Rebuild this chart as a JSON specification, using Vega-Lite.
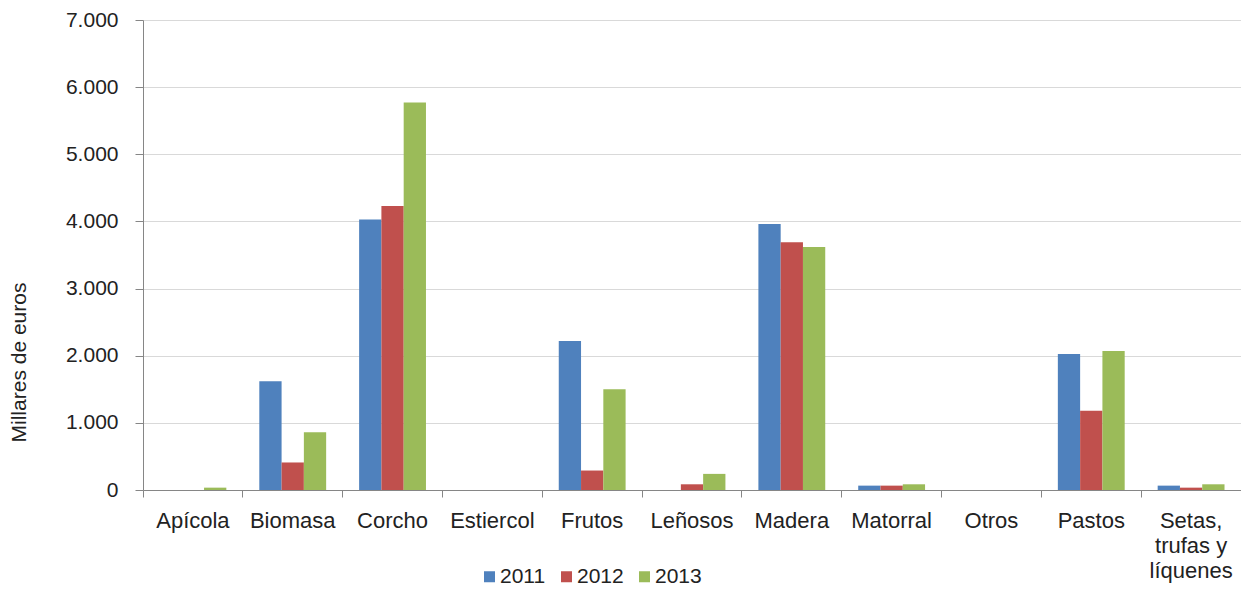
{
  "$schema": "https://vega.github.io/schema/vega-lite/v6.json",
  "autosize": "none",
  "width": 1098,
  "height": 470,
  "padding": {"left": 143, "top": 20, "right": 0, "bottom": 104},
  "background": "white",
  "config": {
    "view": {"stroke": null},
    "font": "Liberation Sans"
  },
  "data": {
    "values": [
      {"cat": "Apícola", "year": "2011", "v": 0},
      {"cat": "Apícola", "year": "2012", "v": 0},
      {"cat": "Apícola", "year": "2013", "v": 35},
      {"cat": "Biomasa", "year": "2011", "v": 1620},
      {"cat": "Biomasa", "year": "2012", "v": 410},
      {"cat": "Biomasa", "year": "2013", "v": 860},
      {"cat": "Corcho", "year": "2011", "v": 4030},
      {"cat": "Corcho", "year": "2012", "v": 4230},
      {"cat": "Corcho", "year": "2013", "v": 5770},
      {"cat": "Estiercol", "year": "2011", "v": 0},
      {"cat": "Estiercol", "year": "2012", "v": 0},
      {"cat": "Estiercol", "year": "2013", "v": 0},
      {"cat": "Frutos", "year": "2011", "v": 2220},
      {"cat": "Frutos", "year": "2012", "v": 290},
      {"cat": "Frutos", "year": "2013", "v": 1500},
      {"cat": "Leñosos", "year": "2011", "v": 0},
      {"cat": "Leñosos", "year": "2012", "v": 85},
      {"cat": "Leñosos", "year": "2013", "v": 240},
      {"cat": "Madera", "year": "2011", "v": 3960},
      {"cat": "Madera", "year": "2012", "v": 3690},
      {"cat": "Madera", "year": "2013", "v": 3620},
      {"cat": "Matorral", "year": "2011", "v": 65},
      {"cat": "Matorral", "year": "2012", "v": 65},
      {"cat": "Matorral", "year": "2013", "v": 85},
      {"cat": "Otros", "year": "2011", "v": 0},
      {"cat": "Otros", "year": "2012", "v": 0},
      {"cat": "Otros", "year": "2013", "v": 0},
      {"cat": "Pastos", "year": "2011", "v": 2025},
      {"cat": "Pastos", "year": "2012", "v": 1180},
      {"cat": "Pastos", "year": "2013", "v": 2070},
      {"cat": "Setas, trufas y líquenes", "year": "2011", "v": 65},
      {"cat": "Setas, trufas y líquenes", "year": "2012", "v": 35},
      {"cat": "Setas, trufas y líquenes", "year": "2013", "v": 85}
    ]
  },
  "mark": {"type": "bar"},
  "encoding": {
    "x": {
      "field": "cat",
      "type": "nominal",
      "sort": null,
      "scale": {"paddingInner": 0, "paddingOuter": 0},
      "axis": {
        "title": null,
        "labelAngle": 0,
        "labelFont": "Liberation Sans",
        "labelFontSize": 22,
        "labelColor": "#222222",
        "labelPadding": 13,
        "labelLineHeight": 25,
        "labelExpr": "datum.label == 'Setas, trufas y líquenes' ? ['Setas,', 'trufas y', 'líquenes'] : datum.label",
        "bandPosition": 0,
        "domainColor": "#868686",
        "tickColor": "#868686",
        "tickSize": 7,
        "grid": false
      }
    },
    "xOffset": {
      "field": "year",
      "type": "nominal",
      "scale": {"paddingInner": 0, "paddingOuter": 0.74}
    },
    "y": {
      "field": "v",
      "type": "quantitative",
      "scale": {"domain": [0, 7000], "nice": false},
      "axis": {
        "title": "Millares de euros",
        "titleFont": "Liberation Sans",
        "titleFontSize": 21,
        "titleFontWeight": "normal",
        "titleColor": "#222222",
        "titleAngle": -90,
        "titleX": -124,
        "titleY": 342,
        "titleAlign": "center",
        "titleBaseline": "middle",
        "values": [0, 1000, 2000, 3000, 4000, 5000, 6000, 7000],
        "labelExpr": "replace(format(datum.value, ','), ',', '.')",
        "labelFont": "Liberation Sans",
        "labelFontSize": 21,
        "labelColor": "#222222",
        "labelPadding": 17,
        "domainColor": "#868686",
        "tickColor": "#868686",
        "tickSize": 8,
        "gridColor": "#d9d9d9",
        "grid": true
      }
    },
    "color": {
      "field": "year",
      "type": "nominal",
      "scale": {"domain": ["2011", "2012", "2013"], "range": ["#4F81BD", "#C0504D", "#9BBB59"]},
      "legend": {
        "title": null,
        "orient": "none",
        "direction": "horizontal",
        "legendX": 336,
        "legendY": 546,
        "symbolType": "square",
        "symbolSize": 121,
        "symbolStrokeWidth": 0,
        "labelFont": "Liberation Sans",
        "labelFontSize": 21,
        "labelColor": "#222222",
        "labelOffset": 0,
        "columnPadding": 10
      }
    }
  }
}
